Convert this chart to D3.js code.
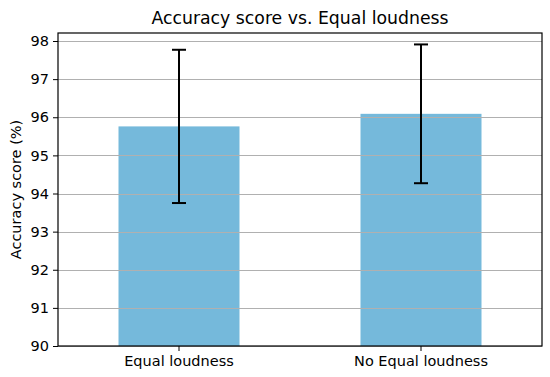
<!DOCTYPE html>
<html>
<head>
<meta charset="utf-8">
<script src="https://cdn.jsdelivr.net/npm/d3@7"></script>
<style>
  body { margin: 0; background: #fff; }
  text { font-family: "DejaVu Sans", sans-serif; fill: #000; }
</style>
</head>
<body>
<div id="chart"></div>
<script>
// == Data ====================================================================

const categories = ['Equal loudness', 'No Equal loudness']
const means = [95.76, 96.09]
const errors = [2.01, 1.82]
const yTicks = [90, 91, 92, 93, 94, 95, 96, 97, 98]

// == Layout ==================================================================

const width = 550
const height = 377
const margin = { top: 33, right: 8, bottom: 31, left: 58 }
const innerW = width - margin.left - margin.right
const innerH = height - margin.top - margin.bottom

const svg = d3.select('#chart').append('svg')
  .attr('width', width)
  .attr('height', height)

const g = svg.append('g')
  .attr('transform', `translate(${margin.left},${margin.top})`)

const x = d3.scaleBand()
  .domain(categories)
  .range([0, innerW])
  .paddingInner(0.5)
  .paddingOuter(0.25)

const y = d3.scaleLinear()
  .domain([90, 98.21])
  .range([innerH, 0])

// bars
g.selectAll('rect.bar')
  .data(categories)
  .enter().append('rect')
  .attr('class', 'bar')
  .attr('x', d => x(d))
  .attr('width', x.bandwidth())
  .attr('y', (d, i) => y(means[i]))
  .attr('height', (d, i) => innerH - y(means[i]))
  .attr('fill', '#75b9db')

// grid (drawn over bars, like the original)
g.append('g')
  .selectAll('line')
  .data(yTicks)
  .enter().append('line')
  .attr('x1', 0)
  .attr('x2', innerW)
  .attr('y1', d => Math.round(y(d)) + 0.5)
  .attr('y2', d => Math.round(y(d)) + 0.5)
  .attr('stroke', '#b0b0b0')
  .attr('stroke-width', 1.2)

// error bars
const capW = 7
const err = g.append('g')
categories.forEach(function (c, i) {
  const cx = x(c) + x.bandwidth() / 2
  const lo = y(means[i] - errors[i])
  const hi = y(means[i] + errors[i])
  err.append('line')
    .attr('x1', cx).attr('x2', cx)
    .attr('y1', lo).attr('y2', hi)
    .attr('stroke', '#000').attr('stroke-width', 2)
  ;[lo, hi].forEach(function (yy) {
    err.append('line')
      .attr('x1', cx - capW).attr('x2', cx + capW)
      .attr('y1', yy).attr('y2', yy)
      .attr('stroke', '#000').attr('stroke-width', 2)
  })
})

// axes
const yAxis = g.append('g')
  .call(d3.axisLeft(y).tickValues(yTicks).tickSize(5).tickPadding(4))
yAxis.select('.domain').remove()
yAxis.selectAll('text').style('font-size', '14.5px')

const xAxis = g.append('g')
  .attr('transform', `translate(0,${innerH})`)
  .call(d3.axisBottom(x).tickSize(5).tickPadding(5))
xAxis.select('.domain').remove()
xAxis.selectAll('text').style('font-size', '14.5px')

// frame
g.append('rect')
  .attr('width', innerW)
  .attr('height', innerH)
  .attr('fill', 'none')
  .attr('stroke', '#000')
  .attr('stroke-width', 1.2)

// labels
svg.append('text')
  .attr('x', margin.left + innerW / 2)
  .attr('y', 24)
  .attr('text-anchor', 'middle')
  .style('font-size', '17.3px')
  .text('Accuracy score vs. Equal loudness')

svg.append('text')
  .attr('transform', `translate(21,${margin.top + innerH / 2}) rotate(-90)`)
  .attr('text-anchor', 'middle')
  .style('font-size', '14.5px')
  .text('Accuracy score (%)')
</script>
</body>
</html>
